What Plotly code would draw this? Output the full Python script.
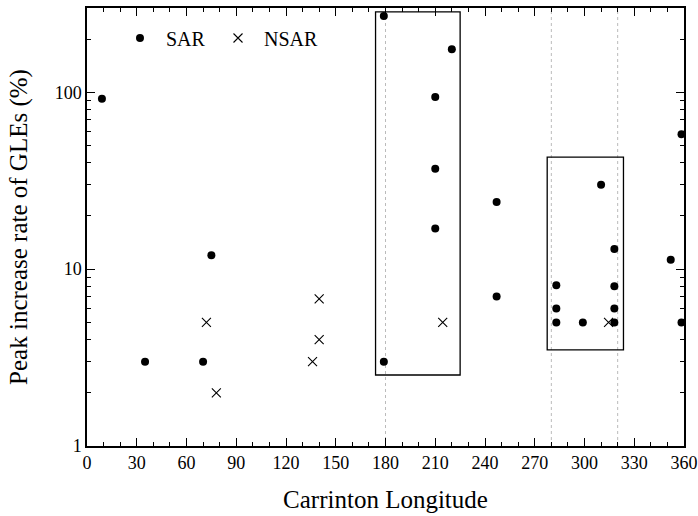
import plotly.graph_objects as go

# SAR events (filled circles)
sar_lon = [9, 35, 70, 75, 179, 179, 220, 210, 210, 210, 247, 247, 310, 318, 283, 283, 283, 299, 318, 318, 318, 352, 358.5, 358.5]
sar_val = [92, 3, 3, 12, 270, 3, 175, 94, 37, 17, 24, 7, 30, 13, 8.1, 6, 5, 5, 8, 6, 5, 11.3, 58, 5]

# NSAR events (crosses)
nsar_lon = [72, 78, 136, 140, 140, 214.5, 314.5]
nsar_val = [5, 2, 3, 6.8, 4, 5, 5]

x_ticks = list(range(0, 361, 30))
y_ticks = [1, 10, 100]
y_minor = [2, 3, 4, 5, 6, 7, 8, 9, 20, 30, 40, 50, 60, 70, 80, 90, 200, 300]

guide_lons = [180, 280, 320]
boxes = [(174, 225, 2.52, 285), (277.5, 323.5, 3.5, 43)]

FONT = "Liberation Serif"

fig = go.Figure()
fig.add_trace(go.Scatter(x=sar_lon, y=sar_val, mode="markers", name="SAR", legend="legend",
                         marker=dict(symbol="circle", size=8, color="black")))
fig.add_trace(go.Scatter(x=nsar_lon, y=nsar_val, mode="markers", name="NSAR", legend="legend2",
                         marker=dict(symbol="x-thin", size=9, color="black",
                                     line=dict(width=1.1, color="black"))))

shapes = []
for g in guide_lons:
    shapes.append(dict(type="line", xref="x", yref="paper", x0=g, x1=g, y0=0, y1=1,
                       line=dict(color="#bbbbbb", width=1, dash="dot"), layer="below"))
for (x0, x1, y0, y1) in boxes:
    shapes.append(dict(type="rect", xref="x", yref="y", x0=x0, x1=x1, y0=y0, y1=y1,
                       line=dict(color="black", width=1.3), fillcolor="rgba(0,0,0,0)"))

axis_common = dict(showline=True, linecolor="black", linewidth=1.5, mirror="ticks",
                   ticks="inside", ticklen=8, tickwidth=1.3, tickcolor="black",
                   showgrid=False, zeroline=False, automargin=False,
                   tickfont=dict(family=FONT, size=18, color="black"))

legend_common = dict(orientation="h", y=0.976, xanchor="left", yanchor="top",
                     bgcolor="rgba(0,0,0,0)", font=dict(family=FONT, size=20, color="black"),
                     itemwidth=42)

fig.update_layout(
    width=698, height=516,
    margin=dict(l=87, r=14, t=8, b=70),
    paper_bgcolor="white", plot_bgcolor="white",
    shapes=shapes,
    showlegend=True,
    legend=dict(x=0.0452, **legend_common),
    legend2=dict(x=0.2094, **legend_common),
    xaxis=dict(range=[0, 360], tickvals=x_ticks,
               minor=dict(dtick=10, ticks="inside", ticklen=4, tickwidth=1.2, tickcolor="black"),
               title=dict(text="Carrinton Longitude", font=dict(family=FONT, size=25, color="black"),
                          standoff=18),
               **axis_common),
    yaxis=dict(type="log", range=[0, 2.477], tickvals=y_ticks, ticktext=[str(v) for v in y_ticks],
               minor=dict(tickvals=y_minor, ticks="inside", ticklen=4, tickwidth=1.2, tickcolor="black"),
               title=dict(text="Peak increase rate of GLEs (%)", font=dict(family=FONT, size=25, color="black"),
                          standoff=20),
               **axis_common),
)

fig.write_html("out.html", config={"displayModeBar": False},
               post_script="document.body.style.margin='0';document.body.style.padding='0';")
